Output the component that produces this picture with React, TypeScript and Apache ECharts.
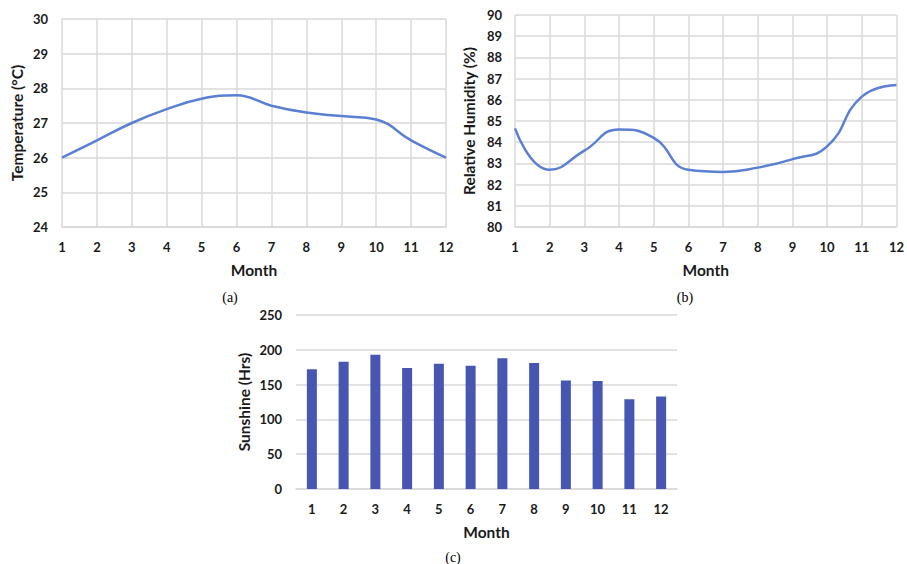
import React, { useEffect, useRef } from "react";
import * as echarts from "echarts";

const months = ["1", "2", "3", "4", "5", "6", "7", "8", "9", "10", "11", "12"];
const temperature = [26.0, 26.5, 27.0, 27.4, 27.7, 27.8, 27.5, 27.3, 27.2, 27.1, 26.5, 26.0];
const humidity = [84.65, 82.7, 83.6, 84.6, 84.2, 82.7, 82.6, 82.8, 83.2, 83.8, 86.15, 86.7];
const sunshine = [172, 183, 193, 174, 180, 177, 188, 181, 156, 155, 129, 133];
const captions = ["(a)", "(b)", "(c)"];

const FONT = "Lato";
const GRID_COLOR = "#d9d9d9";
const TEXT_COLOR = "#1a1a1a";
const LINE_COLOR = "#5b7fd2";
const BAR_COLOR = "#4656b1";

export default function App() {
  const ref = useRef<HTMLDivElement>(null);
  useEffect(() => {
    if (!ref.current) return;
    const chart = echarts.init(ref.current, null, { renderer: "svg" });
    const tickLabel = { color: TEXT_COLOR, fontFamily: FONT, fontWeight: "bold", fontSize: 13 };
    const nameStyle = { color: TEXT_COLOR, fontFamily: FONT, fontWeight: "bold", fontSize: 15.5 };
    const xNameStyle = { color: TEXT_COLOR, fontFamily: FONT, fontWeight: "bold", fontSize: 15.5 };
    const capStyle = (t: string) => ({
      text: t,
      fill: "#000",
      fontFamily: "Liberation Serif",
      fontSize: 14,
      align: "center",
      verticalAlign: "middle",
    });
    const lineX = (gi: number) => ({
      type: "category",
      gridIndex: gi,
      data: months,
      boundaryGap: false,
      axisLine: { show: true, lineStyle: { color: GRID_COLOR, width: 1.5 } },
      axisTick: { show: false },
      axisLabel: { ...tickLabel, margin: 13 },
      splitLine: { show: true, lineStyle: { color: GRID_COLOR, width: 1.5 } },
      name: "Month",
      nameLocation: "middle",
      nameGap: 35,
      nameTextStyle: xNameStyle,
    });
    const option: any = {
      animation: false,
      backgroundColor: "#ffffff",
      grid: [
        { left: 62, top: 19, width: 384, height: 208 },
        { left: 515, top: 15, width: 386, height: 212 },
        { left: 296, top: 315, width: 381, height: 174 },
      ],
      xAxis: [
        lineX(0),
        lineX(1),
        {
          type: "category",
          gridIndex: 2,
          data: months,
          boundaryGap: true,
          axisLine: { show: true, lineStyle: { color: GRID_COLOR, width: 1.5 } },
          axisTick: { show: false },
          axisLabel: { ...tickLabel, margin: 13 },
          splitLine: { show: false },
          name: "Month",
          nameLocation: "middle",
          nameGap: 35,
          nameTextStyle: xNameStyle,
        },
      ],
      yAxis: [
        {
          type: "value",
          gridIndex: 0,
          min: 24,
          max: 30,
          interval: 1,
          axisLine: { show: false },
          axisTick: { show: false },
          axisLabel: { ...tickLabel, margin: 14 },
          splitLine: { show: true, lineStyle: { color: GRID_COLOR, width: 1.5 } },
          name: "Temperature (°C)",
          nameLocation: "middle",
          nameGap: 37,
          nameTextStyle: nameStyle,
        },
        {
          type: "value",
          gridIndex: 1,
          min: 80,
          max: 90,
          interval: 1,
          axisLine: { show: false },
          axisTick: { show: false },
          axisLabel: { ...tickLabel, margin: 13 },
          splitLine: { show: true, lineStyle: { color: GRID_COLOR, width: 1.5 } },
          name: "Relative Humidity (%)",
          nameLocation: "middle",
          nameGap: 38,
          nameTextStyle: nameStyle,
        },
        {
          type: "value",
          gridIndex: 2,
          min: 0,
          max: 250,
          interval: 50,
          axisLine: { show: false },
          axisTick: { show: false },
          axisLabel: { ...tickLabel, margin: 14 },
          splitLine: { show: true, lineStyle: { color: GRID_COLOR, width: 1.5 } },
          name: "Sunshine (Hrs)",
          nameLocation: "middle",
          nameGap: 44,
          nameTextStyle: nameStyle,
        },
      ],
      series: [
        {
          type: "line",
          xAxisIndex: 0,
          yAxisIndex: 0,
          data: temperature,
          smooth: 0.45,
          showSymbol: false,
          lineStyle: { color: LINE_COLOR, width: 2.5 },
        },
        {
          type: "line",
          xAxisIndex: 1,
          yAxisIndex: 1,
          data: humidity,
          smooth: 0.5,
          showSymbol: false,
          lineStyle: { color: LINE_COLOR, width: 2.5 },
        },
        {
          type: "bar",
          xAxisIndex: 2,
          yAxisIndex: 2,
          data: sunshine,
          barWidth: 10,
          itemStyle: { color: BAR_COLOR },
        },
      ],
      graphic: [
        { type: "text", x: 230, y: 297, style: capStyle(captions[0]) },
        { type: "text", x: 685, y: 297, style: capStyle(captions[1]) },
        { type: "text", x: 453, y: 557, style: capStyle(captions[2]) },
      ],
    };
    chart.setOption(option);
    return () => chart.dispose();
  }, []);
  return (
    <div
      ref={ref}
      style={{ position: "fixed", left: 0, top: 0, width: 907, height: 564, background: "#fff" }}
    />
  );
}
